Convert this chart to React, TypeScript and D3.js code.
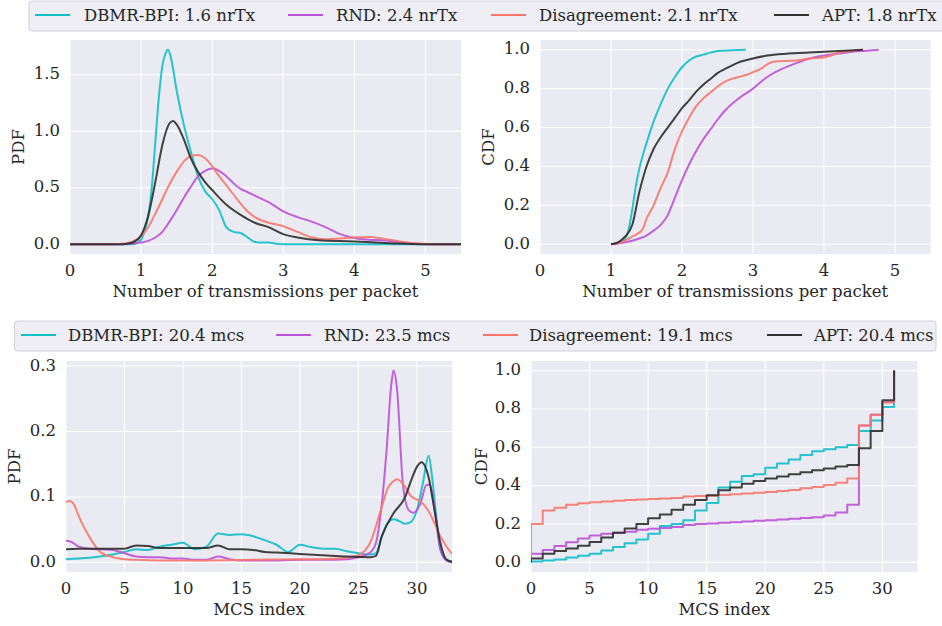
import React from "react";
import * as d3 from "d3";

// ---------- series metadata ----------
const seriesNames = ["DBMR-BPI", "RND", "Disagreement", "APT"];
const seriesColors = ["#0fbfc6", "#bb52d8", "#f8776c", "#2e2e2e"];
const txMeans = ["1.6", "2.4", "2.1", "1.8"];
const mcsMeans = ["20.4", "23.5", "19.1", "20.4"];

// ---------- transmissions per packet: density ----------
const txPdfDbmr: [number, number][] = [
  [0, 0], [0.8, 0], [0.9, 0.003], [1.0, 0.04], [1.05, 0.12], [1.1, 0.25], [1.15, 0.5], [1.2, 0.9],
  [1.25, 1.3], [1.3, 1.58], [1.34, 1.68], [1.38, 1.72], [1.42, 1.65], [1.5, 1.36], [1.6, 1.06],
  [1.7, 0.82], [1.8, 0.6], [1.9, 0.47], [2.0, 0.4], [2.1, 0.3], [2.2, 0.15], [2.3, 0.11],
  [2.4, 0.1], [2.5, 0.06], [2.6, 0.02], [2.7, 0.015], [2.8, 0.015], [2.9, 0.005], [3.0, 0.001],
  [3.2, 0], [5.5, 0],
];
const txPdfRnd: [number, number][] = [
  [0, 0], [0.7, 0], [0.8, 0.002], [0.9, 0.006], [1.0, 0.015], [1.1, 0.03], [1.2, 0.06], [1.3, 0.11],
  [1.4, 0.2], [1.5, 0.3], [1.6, 0.41], [1.7, 0.51], [1.8, 0.6], [1.9, 0.65], [2.0, 0.67],
  [2.1, 0.65], [2.2, 0.6], [2.3, 0.54], [2.4, 0.49], [2.5, 0.46], [2.6, 0.43], [2.8, 0.37],
  [3.0, 0.29], [3.2, 0.24], [3.4, 0.2], [3.6, 0.15], [3.8, 0.09], [4.0, 0.055], [4.2, 0.04],
  [4.4, 0.035], [4.6, 0.02], [4.8, 0.008], [5.0, 0.001], [5.2, 0], [5.5, 0],
];
const txPdfDis: [number, number][] = [
  [0, 0], [0.6, 0], [0.7, 0.003], [0.8, 0.01], [0.9, 0.03], [1.0, 0.07], [1.1, 0.15], [1.2, 0.27],
  [1.3, 0.4], [1.4, 0.53], [1.5, 0.64], [1.6, 0.73], [1.7, 0.78], [1.8, 0.79], [1.9, 0.76],
  [2.0, 0.69], [2.1, 0.6], [2.2, 0.52], [2.3, 0.44], [2.4, 0.36], [2.5, 0.29], [2.6, 0.24],
  [2.7, 0.21], [2.8, 0.19], [3.0, 0.16], [3.2, 0.11], [3.4, 0.06], [3.6, 0.045], [3.8, 0.05],
  [4.0, 0.06], [4.2, 0.065], [4.4, 0.05], [4.6, 0.03], [4.8, 0.012], [5.0, 0.003], [5.2, 0], [5.5, 0],
];
const txPdfApt: [number, number][] = [
  [0, 0], [0.7, 0], [0.8, 0.005], [0.9, 0.02], [1.0, 0.08], [1.1, 0.25], [1.2, 0.55], [1.3, 0.88],
  [1.4, 1.07], [1.45, 1.09], [1.5, 1.06], [1.6, 0.93], [1.7, 0.76], [1.8, 0.64], [1.9, 0.55],
  [2.0, 0.48], [2.2, 0.35], [2.4, 0.26], [2.6, 0.19], [2.8, 0.15], [3.0, 0.09], [3.2, 0.06],
  [3.5, 0.035], [4.0, 0.025], [4.3, 0.015], [4.6, 0.006], [5.0, 0], [5.5, 0],
];

// ---------- transmissions per packet: cumulative ----------
const txCdfDbmr: [number, number][] = [
  [1.0, 0], [1.1, 0.01], [1.2, 0.03], [1.25, 0.08], [1.3, 0.18], [1.35, 0.3], [1.4, 0.39],
  [1.5, 0.52], [1.6, 0.63], [1.7, 0.72], [1.8, 0.8], [1.9, 0.86], [2.0, 0.91], [2.1, 0.945],
  [2.2, 0.965], [2.3, 0.975], [2.4, 0.985], [2.5, 0.993], [2.7, 0.997], [2.9, 1.0],
];
const txCdfRnd: [number, number][] = [
  [1.0, 0], [1.2, 0.01], [1.4, 0.03], [1.5, 0.045], [1.6, 0.07], [1.7, 0.1], [1.8, 0.15],
  [1.9, 0.24], [2.0, 0.33], [2.1, 0.41], [2.2, 0.48], [2.3, 0.54], [2.4, 0.59], [2.5, 0.64],
  [2.6, 0.685], [2.8, 0.75], [3.0, 0.8], [3.2, 0.86], [3.4, 0.9], [3.6, 0.93], [3.8, 0.955],
  [4.0, 0.97], [4.2, 0.98], [4.4, 0.99], [4.6, 0.995], [4.77, 1.0],
];
const txCdfDis: [number, number][] = [
  [1.0, 0], [1.1, 0.005], [1.2, 0.02], [1.3, 0.04], [1.4, 0.06], [1.45, 0.08], [1.5, 0.13],
  [1.6, 0.2], [1.7, 0.29], [1.8, 0.37], [1.9, 0.49], [2.0, 0.58], [2.1, 0.65], [2.2, 0.71],
  [2.3, 0.75], [2.4, 0.78], [2.5, 0.81], [2.6, 0.835], [2.7, 0.85], [2.8, 0.86], [2.9, 0.87],
  [3.0, 0.885], [3.1, 0.9], [3.2, 0.925], [3.3, 0.94], [3.6, 0.945], [3.8, 0.955], [4.0, 0.96],
  [4.1, 0.97], [4.2, 0.985], [4.3, 0.99], [4.55, 1.0],
];
const txCdfApt: [number, number][] = [
  [1.0, 0], [1.1, 0.01], [1.2, 0.04], [1.3, 0.1], [1.4, 0.27], [1.5, 0.4], [1.6, 0.49],
  [1.7, 0.55], [1.8, 0.6], [1.9, 0.65], [2.0, 0.7], [2.1, 0.74], [2.2, 0.785], [2.3, 0.82],
  [2.4, 0.85], [2.5, 0.88], [2.6, 0.9], [2.8, 0.935], [3.0, 0.955], [3.2, 0.97], [3.5, 0.98],
  [4.0, 0.99], [4.55, 1.0],
];

// ---------- MCS index: density ----------
const mcsPdfDbmr: [number, number][] = [
  [0, 0.005], [2, 0.007], [4, 0.012], [5, 0.016], [6, 0.02], [7, 0.019], [8, 0.024], [9, 0.027],
  [10, 0.03], [11, 0.02], [12, 0.024], [13, 0.044], [14, 0.042], [15, 0.043], [16, 0.04],
  [17, 0.034], [18, 0.027], [19, 0.016], [20, 0.027], [21, 0.023], [22, 0.021], [23, 0.021],
  [24, 0.017], [25, 0.014], [26, 0.012], [26.5, 0.014], [27, 0.04], [27.5, 0.06], [28, 0.066],
  [28.5, 0.063], [29, 0.059], [29.5, 0.062], [30, 0.08], [30.5, 0.12], [31, 0.163], [31.3, 0.13],
  [31.6, 0.08], [32, 0.02], [32.5, 0.004], [33, 0.001],
];
const mcsPdfRnd: [number, number][] = [
  [0, 0.033], [0.5, 0.031], [1, 0.025], [2, 0.021], [3, 0.02], [4, 0.019], [5, 0.014],
  [6, 0.009], [7, 0.008], [8, 0.008], [9, 0.006], [10, 0.006], [11, 0.004], [12, 0.004],
  [13, 0.009], [14, 0.005], [15, 0.003], [18, 0.003], [20, 0.004], [22, 0.004], [24, 0.005],
  [25, 0.008], [26, 0.015], [26.5, 0.03], [27, 0.09], [27.4, 0.17], [27.8, 0.27], [28, 0.293],
  [28.3, 0.265], [28.8, 0.12], [29.3, 0.08], [29.7, 0.076], [30.3, 0.09], [30.8, 0.118],
  [31.1, 0.119], [31.4, 0.095], [32, 0.02], [32.5, 0.003], [33, 0],
];
const mcsPdfDis: [number, number][] = [
  [0, 0.092], [0.3, 0.094], [0.7, 0.088], [1, 0.075], [1.5, 0.055], [2, 0.039], [2.5, 0.025],
  [3, 0.015], [4, 0.008], [5, 0.005], [6, 0.004], [8, 0.003], [12, 0.003], [16, 0.004],
  [20, 0.005], [22, 0.005], [24, 0.007], [25, 0.011], [26, 0.03], [27, 0.085], [27.5, 0.113],
  [28, 0.124], [28.3, 0.127], [29, 0.115], [29.5, 0.101], [30, 0.096], [30.5, 0.09], [31, 0.078],
  [31.5, 0.06], [32, 0.04], [32.5, 0.025], [33, 0.013],
];
const mcsPdfApt: [number, number][] = [
  [0, 0.02], [1, 0.021], [3, 0.021], [5, 0.021], [6, 0.026], [7, 0.025], [8, 0.022], [10, 0.022],
  [12, 0.022], [13, 0.026], [14, 0.02], [15, 0.02], [16, 0.019], [17, 0.016], [18, 0.015],
  [20, 0.013], [22, 0.011], [24, 0.009], [26, 0.008], [26.5, 0.01], [27, 0.04], [28, 0.075],
  [29, 0.1], [29.5, 0.125], [30, 0.146], [30.4, 0.153], [31, 0.13], [31.5, 0.08], [32, 0.03],
  [32.5, 0.005], [33, 0.001],
];

// ---------- MCS index: cumulative (value held from index k to k+1) ----------
const mcsCdfDbmr = [
  0.005, 0.01, 0.015, 0.025, 0.035, 0.045, 0.062, 0.08, 0.1, 0.12, 0.15, 0.19, 0.2, 0.22, 0.27,
  0.31, 0.39, 0.42, 0.45, 0.46, 0.494, 0.515, 0.537, 0.56, 0.58, 0.59, 0.6, 0.612, 0.685, 0.74,
  0.81, 1.0,
];
const mcsCdfRnd = [
  0.045, 0.065, 0.085, 0.105, 0.125, 0.14, 0.15, 0.155, 0.16, 0.17, 0.175, 0.18, 0.185, 0.195, 0.2,
  0.203, 0.207, 0.21, 0.213, 0.217, 0.22, 0.224, 0.228, 0.232, 0.236, 0.245, 0.26, 0.3, 0.714,
  0.77, 0.835, 1.0,
];
const mcsCdfDis = [
  0.2, 0.27, 0.285, 0.3, 0.308, 0.313, 0.318, 0.322, 0.325, 0.328, 0.33, 0.333, 0.336, 0.343,
  0.346, 0.348, 0.351, 0.355, 0.359, 0.363, 0.367, 0.372, 0.378, 0.386, 0.393, 0.403, 0.415,
  0.437, 0.714, 0.77, 0.835, 1.0,
];
const mcsCdfApt = [
  0.02, 0.045, 0.06, 0.072, 0.087, 0.107, 0.13, 0.154, 0.177, 0.2, 0.23, 0.25, 0.275, 0.3, 0.325,
  0.35, 0.376, 0.39, 0.41, 0.425, 0.437, 0.448, 0.46, 0.47, 0.48, 0.49, 0.5, 0.508, 0.595, 0.685,
  0.845, 1.0,
];

// ---------- tick values ----------
const txTicks = [0, 1, 2, 3, 4, 5];
const txPdfTicks = [0, 0.5, 1.0, 1.5];
const cdfTicks = [0, 0.2, 0.4, 0.6, 0.8, 1.0];
const mcsTicks = [0, 5, 10, 15, 20, 25, 30];
const mcsPdfTicks = [0, 0.1, 0.2, 0.3];

const FONT = "'DejaVu Serif', serif";
const FS = 16.5;
const TXT = "#262626";
const BG = "#eaeaf2";

const toSteps = (vals: number[]): [number, number][] => [[0, 0], ...vals.map((v, k) => [k, v] as [number, number])];

type Panel = {
  left: number; right: number; top: number; bottom: number;
  xDomain: [number, number]; yDomain: [number, number];
  xTicks: number[]; yTicks: number[];
  xLabel: string; yLabel: string; yLabelX: number; step: boolean;
  series: [number, number][][];
};

const panels: Panel[] = [
  {
    left: 70, right: 461, top: 40, bottom: 254, xDomain: [0, 5.5], yDomain: [-0.086, 1.806],
    xTicks: txTicks, yTicks: txPdfTicks, xLabel: "Number of transmissions per packet", yLabel: "PDF",
    yLabelX: 19, step: false, series: [txPdfDbmr, txPdfRnd, txPdfDis, txPdfApt],
  },
  {
    left: 540, right: 930.5, top: 40, bottom: 254, xDomain: [0, 5.5], yDomain: [-0.05, 1.05],
    xTicks: txTicks, yTicks: cdfTicks, xLabel: "Number of transmissions per packet", yLabel: "CDF",
    yLabelX: 489, step: false, series: [txCdfDbmr, txCdfRnd, txCdfDis, txCdfApt],
  },
  {
    left: 66, right: 452, top: 361, bottom: 572, xDomain: [0, 33], yDomain: [-0.01465, 0.3077],
    xTicks: mcsTicks, yTicks: mcsPdfTicks, xLabel: "MCS index", yLabel: "PDF",
    yLabelX: 15, step: false, series: [mcsPdfDbmr, mcsPdfRnd, mcsPdfDis, mcsPdfApt],
  },
  {
    left: 531, right: 917.5, top: 361, bottom: 572, xDomain: [0, 33], yDomain: [-0.05, 1.05],
    xTicks: mcsTicks, yTicks: cdfTicks, xLabel: "MCS index", yLabel: "CDF",
    yLabelX: 482, step: true,
    series: [toSteps(mcsCdfDbmr), toSteps(mcsCdfRnd), toSteps(mcsCdfDis), toSteps(mcsCdfApt)],
  },
];

function Axes({ p }: { p: Panel }) {
  const x = d3.scaleLinear().domain(p.xDomain).range([p.left, p.right]);
  const y = d3.scaleLinear().domain(p.yDomain).range([p.bottom, p.top]);
  const line = d3
    .line<[number, number]>()
    .x((d) => x(d[0]))
    .y((d) => y(d[1]))
    .curve(p.step ? d3.curveStepAfter : d3.curveMonotoneX);
  const yFmt = d3.format(".1f");
  const midY = (p.top + p.bottom) / 2;
  const clipId = `clip-${p.left}-${p.top}`;
  return (
    <g>
      <defs>
        <clipPath id={clipId}>
          <rect x={p.left} y={p.top - 2} width={p.right - p.left} height={p.bottom - p.top + 4} />
        </clipPath>
      </defs>
      <rect x={p.left} y={p.top} width={p.right - p.left} height={p.bottom - p.top} fill={BG} />
      {p.xTicks.map((t) => (
        <line key={"gx" + t} x1={x(t)} x2={x(t)} y1={p.top} y2={p.bottom} stroke="#fff" strokeWidth={1.1} />
      ))}
      {p.yTicks.map((t) => (
        <line key={"gy" + t} x1={p.left} x2={p.right} y1={y(t)} y2={y(t)} stroke="#fff" strokeWidth={1.1} />
      ))}
      <g clipPath={`url(#${clipId})`}>
        {p.series.map((s, i) => (
          <path key={i} d={line(s) ?? ""} fill="none" stroke={seriesColors[i]} strokeWidth={2}
            strokeOpacity={0.9} strokeLinejoin="round" />
        ))}
      </g>
      {p.xTicks.map((t) => (
        <text key={"tx" + t} x={x(t)} y={p.bottom + 17} textAnchor="middle" dominantBaseline="middle"
          fontSize={FS} fill={TXT} fontFamily={FONT}>{t}</text>
      ))}
      {p.yTicks.map((t) => (
        <text key={"ty" + t} x={p.left - 10} y={y(t)} textAnchor="end" dominantBaseline="middle"
          fontSize={FS} fill={TXT} fontFamily={FONT}>{yFmt(t)}</text>
      ))}
      <text x={(p.left + p.right) / 2} y={p.bottom + 38} textAnchor="middle" dominantBaseline="middle"
        fontSize={FS} fill={TXT} fontFamily={FONT}>{p.xLabel}</text>
      <text transform={`translate(${p.yLabelX},${midY}) rotate(-90)`} textAnchor="middle"
        dominantBaseline="middle" fontSize={FS} fill={TXT} fontFamily={FONT}>{p.yLabel}</text>
    </g>
  );
}

type LegendSpec = { x: number; y: number; w: number; h: number; items: { lx: number; tx: number; label: string }[] };

function Legend({ spec }: { spec: LegendSpec }) {
  const cy = spec.y + spec.h / 2;
  return (
    <g>
      <rect x={spec.x} y={spec.y} width={spec.w} height={spec.h} rx={3} fill="#eeeef4" stroke="#d0d0d6" strokeWidth={1} />
      {spec.items.map((it, i) => (
        <g key={i}>
          <line x1={it.lx} x2={it.lx + 35} y1={cy - 1} y2={cy - 1} stroke={seriesColors[i]} strokeWidth={2} />
          <text x={it.tx} y={cy} dominantBaseline="middle" fontSize={FS} fill={TXT} fontFamily={FONT}>{it.label}</text>
        </g>
      ))}
    </g>
  );
}

const topLegend: LegendSpec = {
  x: 29, y: 1, w: 925, h: 30,
  items: [
    { lx: 35, tx: 84, label: `${seriesNames[0]}: ${txMeans[0]} nrTx` },
    { lx: 288, tx: 336, label: `${seriesNames[1]}: ${txMeans[1]} nrTx` },
    { lx: 491, tx: 539, label: `${seriesNames[2]}: ${txMeans[2]} nrTx` },
    { lx: 774, tx: 822, label: `${seriesNames[3]}: ${txMeans[3]} nrTx` },
  ],
};
const bottomLegend: LegendSpec = {
  x: 14.5, y: 321, w: 921.5, h: 30,
  items: [
    { lx: 21, tx: 68, label: `${seriesNames[0]}: ${mcsMeans[0]} mcs` },
    { lx: 276, tx: 324, label: `${seriesNames[1]}: ${mcsMeans[1]} mcs` },
    { lx: 483, tx: 529, label: `${seriesNames[2]}: ${mcsMeans[2]} mcs` },
    { lx: 767, tx: 814, label: `${seriesNames[3]}: ${mcsMeans[3]} mcs` },
  ],
};

export default function App() {
  return (
    <svg width={942} height={626} style={{ position: "absolute", left: 0, top: 0, background: "#fff" }}>
      {panels.map((p, i) => (
        <Axes key={i} p={p} />
      ))}
      <Legend spec={topLegend} />
      <Legend spec={bottomLegend} />
    </svg>
  );
}
